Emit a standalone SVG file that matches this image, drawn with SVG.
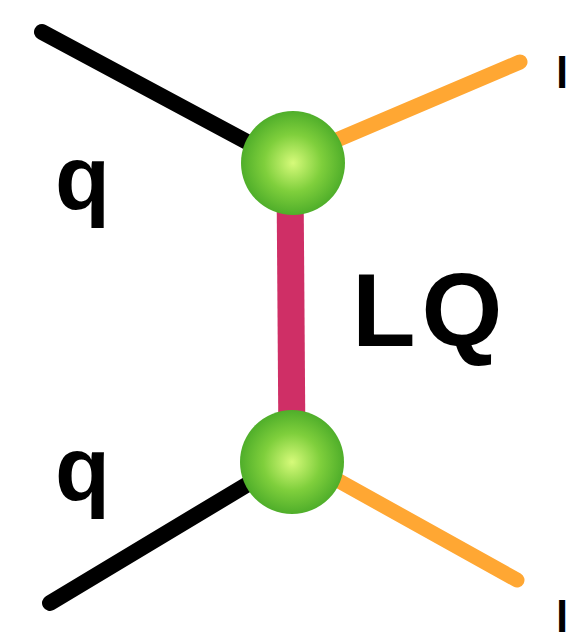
<svg xmlns="http://www.w3.org/2000/svg" width="569" height="643" viewBox="0 0 569 643">
<defs>
<radialGradient id="ball" cx="0.5" cy="0.5" r="0.5">
<stop offset="0" stop-color="#d6fa7a"/>
<stop offset="0.55" stop-color="#7fcf3c"/>
<stop offset="1" stop-color="#4fae2a"/>
</radialGradient>
<style>
.q{stroke:#000;stroke-width:16;stroke-linecap:round;fill:none}
.l{stroke:#ffa733;stroke-width:15;stroke-linecap:round;fill:none}
.lq{stroke:#cf2f66;stroke-width:27;stroke-linecap:butt;fill:none}
.t{font-family:"Liberation Sans",Arial,sans-serif;font-weight:bold;fill:#000}
</style>
</defs>
<rect width="569" height="643" fill="#fff"/>
<g id="connectors">
<line class="lq" x1="290" y1="175" x2="292" y2="450"/>
<line class="q" x1="42" y1="32" x2="262" y2="150"/>
<line class="l" x1="520" y1="62" x2="325" y2="145"/>
<line class="q" x1="50" y1="603" x2="258" y2="478"/>
<line class="l" x1="517" y1="580" x2="330" y2="476"/>
</g>
<g id="vertex-top"><circle cx="293" cy="163" r="52" fill="url(#ball)"/></g>
<g id="vertex-bottom"><circle cx="292" cy="462" r="52" fill="url(#ball)"/></g>
<g id="labels">
<text class="t" x="55" y="209" font-size="90">q</text>
<text class="t" x="55" y="500" font-size="90">q</text>
<text class="t" x="352" y="346" font-size="104" letter-spacing="6">LQ</text>
<text class="t" x="556" y="88" font-size="44">l</text>
<text class="t" x="556" y="632" font-size="44">l</text>
</g>
</svg>
